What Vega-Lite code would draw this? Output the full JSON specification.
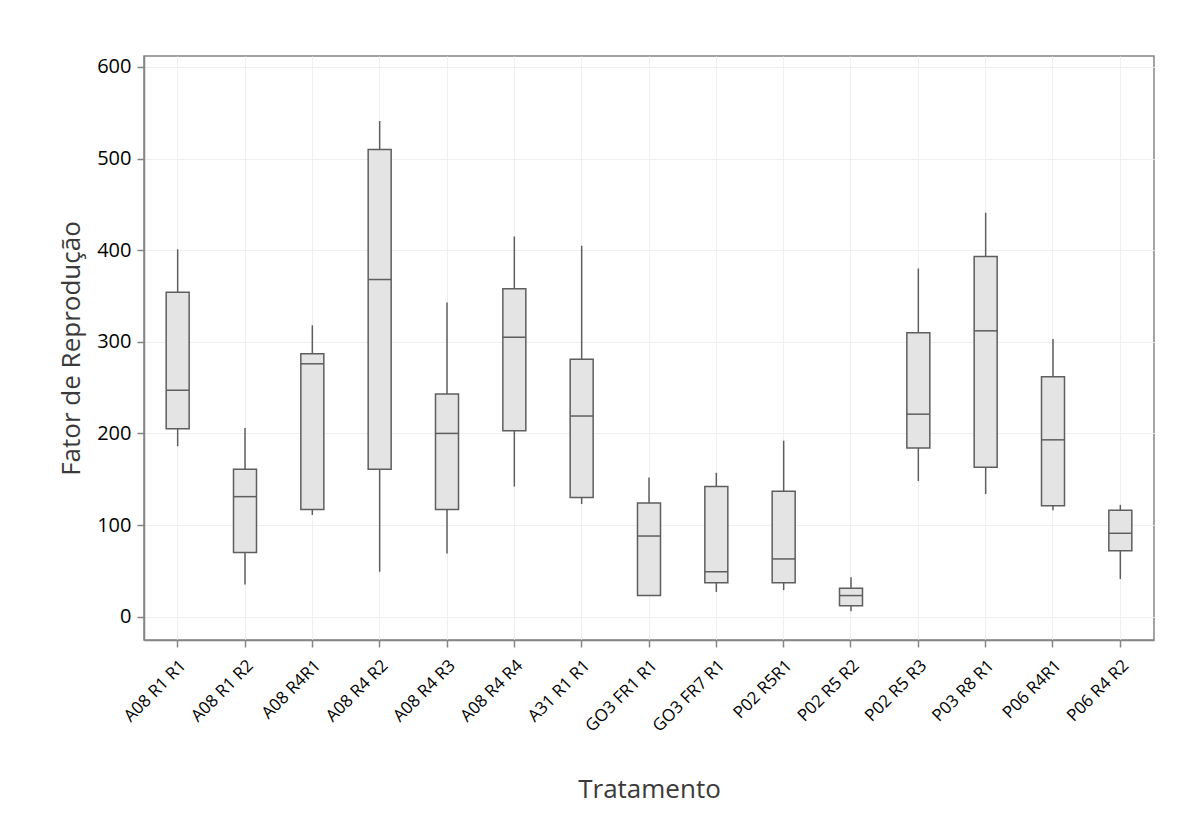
{
  "$schema": "https://vega.github.io/schema/vega-lite/v6.json",
  "autosize": {"type": "none"},
  "width": 1010,
  "height": 584,
  "padding": {"left": 144, "top": 56, "right": 44, "bottom": 182},
  "background": "white",
  "config": {
    "view": {"stroke": "#858585", "strokeWidth": 1.5},
    "font": "Open Sans",
    "axis": {
      "gridColor": "#efefef",
      "gridWidth": 1,
      "domainColor": "#858585",
      "domainWidth": 1.5,
      "tickColor": "#858585",
      "tickWidth": 1.5,
      "tickSize": 7,
      "labelColor": "#000000",
      "labelFont": "Open Sans",
      "titleFont": "Open Sans",
      "titleColor": "#3a3a3a",
      "titleFontWeight": "normal",
      "titleFontSize": 26
    }
  },
  "data": {
    "values": [
      {"Tratamento": "A08 R1 R1", "min": 186, "q1": 205, "median": 247, "q3": 354, "max": 401},
      {"Tratamento": "A08 R1 R2", "min": 35, "q1": 70, "median": 131, "q3": 161, "max": 206},
      {"Tratamento": "A08 R4R1", "min": 111, "q1": 117, "median": 276, "q3": 287, "max": 318},
      {"Tratamento": "A08 R4 R2", "min": 49, "q1": 161, "median": 368, "q3": 510, "max": 541},
      {"Tratamento": "A08 R4 R3", "min": 69, "q1": 117, "median": 200, "q3": 243, "max": 343},
      {"Tratamento": "A08 R4 R4", "min": 142, "q1": 203, "median": 305, "q3": 358, "max": 415},
      {"Tratamento": "A31 R1 R1", "min": 123, "q1": 130, "median": 219, "q3": 281, "max": 405},
      {"Tratamento": "GO3 FR1 R1", "min": 23, "q1": 23, "median": 88, "q3": 124, "max": 152},
      {"Tratamento": "GO3 FR7 R1", "min": 27, "q1": 37, "median": 49, "q3": 142, "max": 157},
      {"Tratamento": "P02 R5R1", "min": 29, "q1": 37, "median": 63, "q3": 137, "max": 192},
      {"Tratamento": "P02 R5 R2", "min": 6, "q1": 12, "median": 23, "q3": 31, "max": 43},
      {"Tratamento": "P02 R5 R3", "min": 148, "q1": 184, "median": 221, "q3": 310, "max": 380},
      {"Tratamento": "P03 R8 R1", "min": 134, "q1": 163, "median": 312, "q3": 393, "max": 441},
      {"Tratamento": "P06 R4R1", "min": 116, "q1": 121, "median": 193, "q3": 262, "max": 303},
      {"Tratamento": "P06 R4 R2", "min": 41, "q1": 72, "median": 91, "q3": 116, "max": 122}
    ]
  },
  "encoding": {
    "x": {
      "field": "Tratamento",
      "type": "nominal",
      "sort": null,
      "scale": {"paddingInner": 0, "paddingOuter": 0},
      "axis": {
        "title": "Tratamento",
        "labelAngle": -45,
        "labelFontSize": 17,
        "labelPadding": 10,
        "titlePadding": 42,
        "grid": true,
        "bandPosition": 0.5
      }
    }
  },
  "layer": [
    {
      "mark": {"type": "rule", "color": "#5e5e5e", "strokeWidth": 1.5},
      "encoding": {
        "y": {
          "field": "min",
          "type": "quantitative",
          "scale": {"domain": [-25.5, 612], "nice": false, "zero": false},
          "axis": {
            "title": "Fator de Reprodução",
            "values": [0, 100, 200, 300, 400, 500, 600],
            "labelFontSize": 20,
            "labelPadding": 6,
            "titlePadding": 12,
            "grid": true
          }
        },
        "y2": {"field": "max"}
      }
    },
    {
      "mark": {"type": "bar", "width": 23, "fill": "#e4e4e4", "stroke": "#5e5e5e", "strokeWidth": 1.5},
      "encoding": {
        "y": {"field": "q1", "type": "quantitative"},
        "y2": {"field": "q3"}
      }
    },
    {
      "mark": {"type": "tick", "size": 23, "thickness": 1.5, "color": "#5e5e5e", "opacity": 1},
      "encoding": {
        "y": {"field": "median", "type": "quantitative"}
      }
    }
  ]
}
